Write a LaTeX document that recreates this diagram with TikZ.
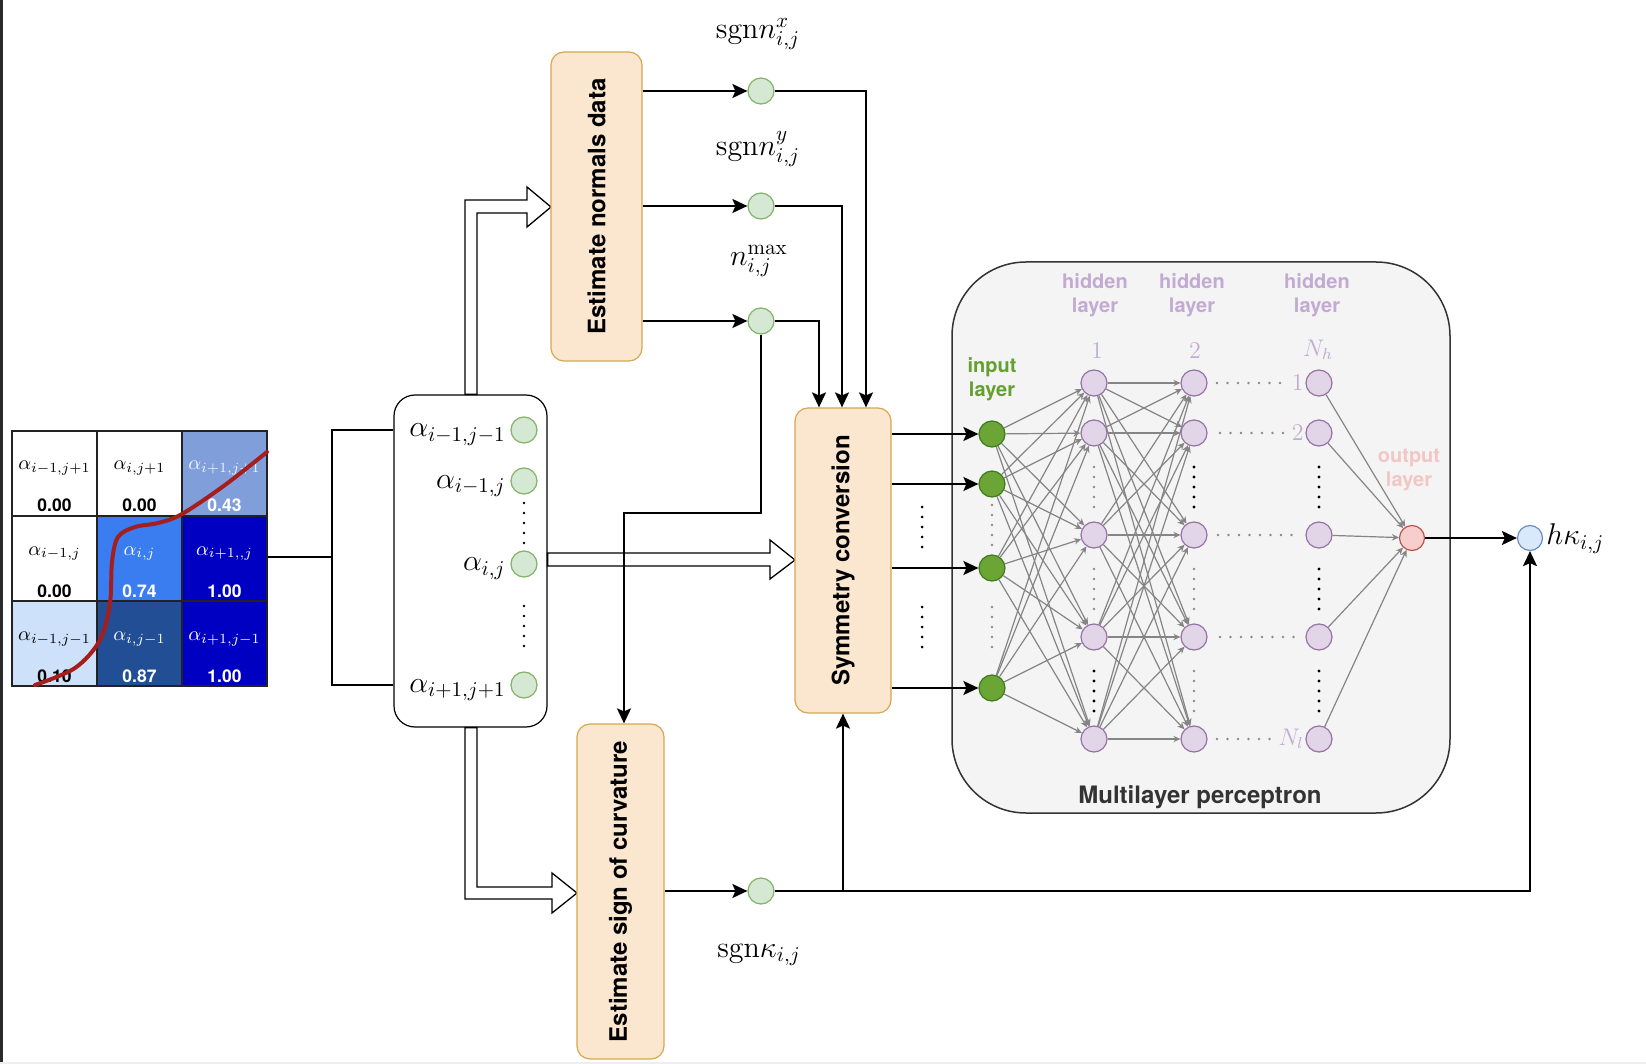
\RequirePackage{fix-cm}
\documentclass[tikz,border=0pt]{standalone}
\usepackage[no-math]{fontspec}
\newfontfamily\hv{TeX Gyre Heros}
\usetikzlibrary{arrows.meta,calc}
\definecolor{ofill}{HTML}{FBE6D0}
\definecolor{oline}{HTML}{D6A850}
\definecolor{gfill}{HTML}{D5E8D4}
\definecolor{gline}{HTML}{82B366}
\definecolor{infill}{HTML}{6AA535}
\definecolor{inline}{HTML}{3F7A1E}
\definecolor{hfill}{HTML}{E1D5E7}
\definecolor{hline}{HTML}{9673A6}
\definecolor{outfill}{HTML}{F8CECC}
\definecolor{redline}{HTML}{B85450}
\definecolor{hkfill}{HTML}{DAE8FC}
\definecolor{hkline}{HTML}{6C8EBF}
\definecolor{mlpfill}{HTML}{F4F4F4}
\definecolor{mlpline}{HTML}{333333}
\definecolor{purp}{HTML}{C3AAD3}
\definecolor{greentxt}{HTML}{62A130}
\definecolor{pinktxt}{HTML}{F3C6C6}
\definecolor{nngrey}{HTML}{858585}
\definecolor{dotgrey}{HTML}{8A8A8A}
\definecolor{gridline}{HTML}{222222}
\definecolor{c13}{HTML}{809FDA}
\definecolor{c22}{HTML}{3A7DF0}
\definecolor{cdark}{HTML}{0000C2}
\definecolor{c31}{HTML}{CDE1FA}
\definecolor{c32}{HTML}{224E96}
\definecolor{curvered}{HTML}{A51D1D}
\definecolor{barc}{HTML}{2A2A2A}
\definecolor{stripc}{HTML}{EEEEEE}
\begin{document}
\begin{tikzpicture}[x=0.5pt,y=-0.5pt,
  plain/.style={line width=1pt},
  conn/.style={line width=1pt,-{Stealth[length=7.5pt,width=7pt,inset=1.5pt]}},
  nnedge/.style={draw=nngrey,line width=0.6pt,-{Stealth[length=3.5pt,width=3.2pt]}},
  obox/.style={draw=oline,fill=ofill,line width=0.6pt,rounded corners=6.5pt,inner sep=0},
  boxtext/.style={rotate=90,inner sep=0,font=\hv\bfseries\fontsize{12}{14}\selectfont},
  cell/.style={draw=gridline,line width=0.75pt,minimum size=42.5pt,inner sep=0},
  galpha/.style={anchor=base,inner sep=0,font=\fontsize{10}{12}\selectfont},
  gval/.style={anchor=base,inner sep=0,font=\hv\bfseries\fontsize{8.75}{10}\selectfont},
  ialabel/.style={anchor=base east,inner sep=0,font=\fontsize{15}{18}\selectfont},
  mlabel/.style={inner sep=0,font=\fontsize{15}{18}\selectfont},
  gcirc/.style={circle,draw=gline,fill=gfill,line width=0.6pt,minimum size=13pt,inner sep=0},
  incirc/.style={circle,draw=inline,fill=infill,line width=0.6pt,minimum size=13pt,inner sep=0},
  hcirc/.style={circle,draw=hline,fill=hfill,line width=0.6pt,minimum size=13pt,inner sep=0},
  ocirc/.style={circle,draw=redline,fill=outfill,line width=0.6pt,minimum size=12.5pt,inner sep=0},
  kcirc/.style={circle,draw=hkline,fill=hkfill,line width=0.6pt,minimum size=12.5pt,inner sep=0},
  hollow/.style={draw,fill=white,line width=0.65pt,line join=miter},
  layertxt/.style={align=center,inner sep=0,font=\hv\bfseries\fontsize{10}{12}\selectfont},
  numtxt/.style={inner sep=0,text=purp,font=\fontsize{12}{14}\selectfont}
]
\useasboundingbox (0,0) rectangle (1646,1064);
\fill[white] (0,0) rectangle (1646,1064);
\fill[barc] (0,0) rectangle (3,1064);
\fill[stripc] (0,1062) rectangle (1646,1064);

% ---------- grid ----------
\node[cell,fill=white] (g11) at (54.5,473.5) {};
\node[cell,fill=white] (g12) at (139.5,473.5) {};
\node[cell,fill=c13]   (g13) at (224.5,473.5) {};
\node[cell,fill=white] (g21) at (54.5,558.5) {};
\node[cell,fill=c22]   (g22) at (139.5,558.5) {};
\node[cell,fill=cdark] (g23) at (224.5,558.5) {};
\node[cell,fill=c31]   (g31) at (54.5,643.5) {};
\node[cell,fill=c32]   (g32) at (139.5,643.5) {};
\node[cell,fill=cdark] (g33) at (224.5,643.5) {};

\node[galpha] (a11) at (54.5,470) {$\alpha_{i-1,j+1}$};
\node[galpha] (a12) at (139.5,470) {$\alpha_{i,j+1}$};
\node[galpha,text=white!88!c13] (a13) at (224.5,470) {$\alpha_{i+1,j+1}$};
\node[galpha] (a21) at (54.5,555) {$\alpha_{i-1,j}$};
\node[galpha,text=white] (a22) at (139.5,555) {$\alpha_{i,j}$};
\node[galpha,text=white] (a23) at (224.5,555) {$\alpha_{i+1,,j}$};
\node[galpha] (a31) at (54.5,640) {$\alpha_{i-1,j-1}$};
\node[galpha,text=white] (a32) at (139.5,640) {$\alpha_{i,j-1}$};
\node[galpha,text=white] (a33) at (224.5,640) {$\alpha_{i+1,j-1}$};

\node[gval] (v11) at (54.5,512) {0.00};
\node[gval] (v12) at (139.5,512) {0.00};
\node[gval,text=white] (v13) at (224.5,512) {0.43};
\node[gval] (v21) at (54.5,597) {0.00};
\node[gval,text=white] (v22) at (139.5,597) {0.74};
\node[gval,text=white] (v23) at (224.5,597) {1.00};
\node[gval] (v31) at (54.5,682) {0.10};
\node[gval,text=white] (v32) at (139.5,682) {0.87};
\node[gval,text=white] (v33) at (224.5,682) {1.00};

\draw[curvered,line width=2pt,line cap=round] plot[smooth,tension=0.55] coordinates
  {(35,685) (75,668) (100,640) (110,603) (112,562) (118,537) (135,527) (158,523) (182,514) (225,485) (267,452)};

% ---------- input box ----------
\node[draw,fill=white,line width=0.6pt,rounded corners=10.5pt,minimum width=76.5pt,minimum height=166pt,inner sep=0] (inbox) at (470.5,561) {};
\node[gcirc] (ia1) at (524,430) {};
\node[gcirc] (ia2) at (524,481) {};
\node[gcirc] (ia3) at (524,564) {};
\node[gcirc] (ia4) at (524,685) {};
\node[ialabel] (la1) at (506,437) {$\alpha_{i-1,j-1}$};
\node[ialabel] (la2) at (506,488) {$\alpha_{i-1,j}$};
\node[ialabel] (la3) at (506,571) {$\alpha_{i,j}$};
\node[ialabel] (la4) at (506,692) {$\alpha_{i+1,j+1}$};
\foreach \y in {503,513,...,543} \fill (524,\y) circle (0.7pt);
\foreach \y in {606,616,...,646} \fill (524,\y) circle (0.7pt);

% bracket
\coordinate (bx) at (332,557);
\draw[plain] (g23.east |- bx) -- (bx);
\draw[plain] (ia1 -| inbox.west) -- (bx |- ia1) -- (bx |- ia4) -- (ia4 -| inbox.west);

% ---------- hollow arrows ----------
\draw[hollow] (465,0 |- inbox.north) -- (465,200) -- (527,200) -- (527,187) -- (551,207)
   -- (527,227) -- (527,213) -- (477,213) -- (477,0 |- inbox.north) -- cycle;
\draw[hollow] (inbox.east |- 0,553) -- (770,553) -- (770,540) -- (795,560) -- (770,579)
   -- (770,566) -- (inbox.east |- 0,566) -- cycle;
\draw[hollow] (465,0 |- inbox.south) -- (465,899) -- (552,899) -- (552,913) -- (577,893)
   -- (552,873) -- (552,887) -- (477,887) -- (477,0 |- inbox.south) -- cycle;

% ---------- orange boxes ----------
\node[obox,minimum width=45.5pt,minimum height=154.5pt] (normals) at (596.5,206.5) {};
\node[boxtext] (normalsT) at (normals.center) {Estimate normals data};
\node[obox,minimum width=48pt,minimum height=152.5pt] (sym) at (843,560.5) {};
\node[boxtext] (symT) at (sym.center) {Symmetry conversion};
\node[obox,minimum width=43.5pt,minimum height=167.5pt] (sign) at (620.5,891.5) {};
\node[boxtext] (signT) at (sign.center) {Estimate sign of curvature};

% ---------- small circles ----------
\node[gcirc] (c1) at (761,91) {};
\node[gcirc] (c2) at (761,206) {};
\node[gcirc] (c3) at (761,321) {};
\node[gcirc] (sc) at (761,891) {};
\node[mlabel] (t1) at (758,34) {$\mathrm{sgn}n^{x}_{i,j}$};
\node[mlabel] (t2) at (758,149) {$\mathrm{sgn}n^{y}_{i,j}$};
\node[mlabel] (t3) at (759,261) {$n^{\max}_{i,j}$};
\node[mlabel] (t4) at (759,955) {$\mathrm{sgn}\kappa_{i,j}$};

\draw[conn] (normals.east |- c1) -- (c1);
\draw[conn] (normals.east |- c2) -- (c2);
\draw[conn] (normals.east |- c3) -- (c3);
\draw[conn] (sign.east |- sc) -- (sc);

\coordinate (s1) at ($(sym.north)+(23,0)$);
\coordinate (s2) at ($(sym.north)+(-1,0)$);
\coordinate (s3) at ($(sym.north)+(-24,0)$);
\draw[conn] (c1) -| (s1);
\draw[conn] (c2) -| (s2);
\draw[conn] (c3) -| (s3);
\coordinate (sg) at ($(sign.north)+(3.5,0)$);
\draw[conn] (c3) -- (c3 |- 0,513) -- (sg |- 0,513) -- (sg);

% ---------- MLP ----------
\node[draw=mlpline,fill=mlpfill,line width=0.75pt,rounded corners=37pt,minimum width=249pt,minimum height=275.5pt,inner sep=0] (mlp) at (1201,537.5) {};
\node[inner sep=0,text=mlpline,font=\hv\bfseries\fontsize{12}{14}\selectfont] (mlpT) at (1200,797) {Multilayer perceptron};

\foreach \n/\y in {1/434,2/484,3/568,4/688} \node[incirc] (in\n) at (992,\y) {};
\foreach \n/\y in {1/383,2/433,3/535,4/637,5/739} {
  \node[hcirc] (ha\n) at (1094,\y) {};
  \node[hcirc] (hb\n) at (1194,\y) {};
  \node[hcirc] (hc\n) at (1319,\y) {};
}
\node[ocirc] (out) at (1412,538) {};
\node[kcirc] (hk) at (1530,538) {};

\foreach \n in {1,...,4} \draw[conn] (sym.east |- in\n) -- (in\n);
\foreach \y in {507,517,...,547} \fill (922,\y) circle (0.75pt);
\foreach \y in {607,617,...,647} \fill (922,\y) circle (0.75pt);

\foreach \i in {1,...,4} \foreach \j in {1,...,5} \draw[nnedge] (in\i) -- (ha\j);
\foreach \i in {1,...,5} \foreach \j in {1,...,5} \draw[nnedge] (ha\i) -- (hb\j);
\foreach \i in {1,...,5} \draw[nnedge] (hc\i) -- (out);
\draw[conn] (out) -- (hk);
\draw[conn] (sc) -| (hk);
\draw[conn] (sc -| sym.south) -- (sym.south);

% vertical dots in the network
\foreach \y in {505,515,...,545} \fill[dotgrey] (992,\y) circle (0.65pt);
\foreach \y in {607,617,...,647} \fill[dotgrey] (992,\y) circle (0.65pt);
\foreach \y in {467,477,...,507} \fill[dotgrey] (1094,\y) circle (0.65pt);
\foreach \y in {569,579,...,609} \fill[dotgrey] (1094,\y) circle (0.65pt);
\foreach \y in {671,681,...,711} \fill (1094,\y) circle (0.8pt);
\foreach \y in {467,477,...,507} \fill (1194,\y) circle (0.8pt);
\foreach \y in {569,579,...,609} \fill[dotgrey] (1194,\y) circle (0.65pt);
\foreach \y in {671,681,...,711} \fill[dotgrey] (1194,\y) circle (0.65pt);
\foreach \y in {467,477,...,507} \fill (1319,\y) circle (0.8pt);
\foreach \y in {569,579,...,609} \fill (1319,\y) circle (0.8pt);
\foreach \y in {671,681,...,711} \fill (1319,\y) circle (0.8pt);
% horizontal dots
\foreach \x in {1217,1227.5,...,1282} \fill[dotgrey] (\x,383) circle (0.65pt);
\foreach \x in {1220,1230.5,...,1285} \fill[dotgrey] (\x,433) circle (0.65pt);
\foreach \x in {1218,1228.5,...,1293} \fill[dotgrey] (\x,535) circle (0.65pt);
\foreach \x in {1220,1230.5,...,1294} \fill[dotgrey] (\x,637) circle (0.65pt);
\foreach \x in {1217,1227.5,...,1270} \fill[dotgrey] (\x,739) circle (0.65pt);

% layer labels
\node[layertxt,text=greentxt] (inL) at (992,379) {input\\layer};
\node[layertxt,text=purp] (h1L) at (1095,295) {hidden\\layer};
\node[layertxt,text=purp] (h2L) at (1192,295) {hidden\\layer};
\node[layertxt,text=purp] (h3L) at (1317,295) {hidden\\layer};
\node[layertxt,text=pinktxt] (outL) at (1409,470) {output\\layer};
\node[numtxt] (n1) at (1097,351) {$1$};
\node[numtxt] (n2) at (1195,351) {$2$};
\node[numtxt] (n3) at (1318,350) {$N_h$};
\node[numtxt,anchor=east] (r1) at (1304,383) {$1$};
\node[numtxt,anchor=east] (r2) at (1304,433) {$2$};
\node[numtxt,anchor=east] (rl) at (1304,739) {$N_l$};
\node[inner sep=0,anchor=base west,font=\fontsize{15}{18}\selectfont] (hkT) at (1546,545) {$h\kappa_{i,j}$};
\end{tikzpicture}
\end{document}
